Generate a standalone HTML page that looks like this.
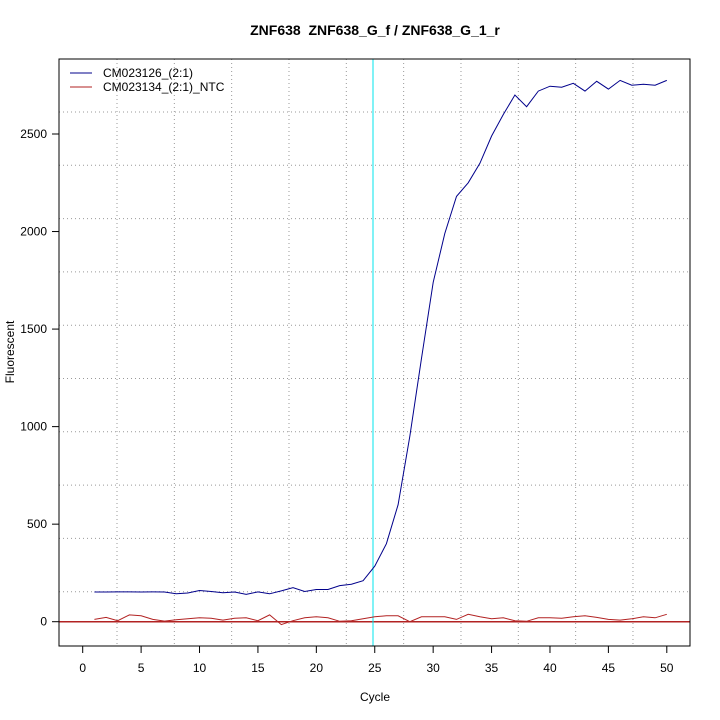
<!DOCTYPE html>
<html><head><meta charset="utf-8"><style>body{margin:0;background:#fff}svg{display:block}text{font-family:"Liberation Sans",sans-serif}</style></head>
<body>
<svg id="s" width="720" height="720" xmlns="http://www.w3.org/2000/svg">
<rect width="720" height="720" fill="#fff"/>
<g id="grid" stroke="#999" stroke-width="1" stroke-dasharray="1,3"></g>
<line x1="59" y1="621.7" x2="690" y2="621.7" stroke="#b22222" stroke-width="1.5"/>
<line x1="373" y1="59" x2="373" y2="646" stroke="#00e5ee" stroke-width="1"/>
<polyline id="red" fill="none" stroke="#b22222" stroke-width="1"/>
<polyline id="blue" fill="none" stroke="#00008b" stroke-width="1"/>
<rect x="59" y="59" width="631" height="587" fill="none" stroke="#000" stroke-width="1"/>
<g id="ax" stroke="#000"></g>
<g id="lbl" font-size="12" fill="#000"></g>
<text x="375" y="35" font-size="14" font-weight="bold" text-anchor="middle" xml:space="preserve" style="white-space:pre">ZNF638  ZNF638_G_f / ZNF638_G_1_r</text>
<text x="375" y="701" font-size="12" text-anchor="middle">Cycle</text>
<text x="14" y="352" font-size="12" text-anchor="middle" transform="rotate(-90 14 352)">Fluorescent</text>
<line x1="70" y1="73" x2="92" y2="73" stroke="#00008b"/>
<line x1="70" y1="87" x2="92" y2="87" stroke="#b22222"/>
<text x="103" y="77" font-size="12">CM023126_(2:1)</text>
<text x="103" y="91" font-size="12">CM023134_(2:1)_NTC</text>
</svg>
<script>
var NS="http://www.w3.org/2000/svg";
function el(p,t,a,txt){var e=document.createElementNS(NS,t);for(var k in a)e.setAttribute(k,a[k]);if(txt!=null)e.textContent=txt;p.appendChild(e);}
var X=function(c){return 82.7+c*11.682};var Y=function(v){return 621.7-v*0.19508};
var g=document.getElementById('grid');
for(var i=0;i<10;i++){var x=117+i*57.33;el(g,'line',{x1:x,y1:59,x2:x,y2:646});}
for(var i=0;i<10;i++){var y=112+i*53.3;el(g,'line',{x1:59,y1:y,x2:690,y2:y});}
var ax=document.getElementById('ax'),lb=document.getElementById('lbl');
for(var c=0;c<=50;c+=5){el(ax,'line',{x1:X(c),y1:646,x2:X(c),y2:653});el(lb,'text',{x:X(c),y:672,'text-anchor':'middle'},String(c));}
for(var v=0;v<=2500;v+=500){el(ax,'line',{x1:52,y1:Y(v),x2:59,y2:Y(v)});el(lb,'text',{x:47,y:Y(v)+4,'text-anchor':'end'},String(v));}
var b=[152,152,153,153,152,153,152,143,147,160,155,148,152,140,153,143,158,175,155,165,165,185,192,210,285,400,600,950,1350,1740,1990,2180,2250,2350,2490,2600,2700,2640,2720,2745,2740,2760,2720,2770,2730,2775,2750,2755,2750,2775];
var r=[12,22,5,35,30,12,3,10,15,20,18,8,18,20,5,35,-15,5,20,25,20,2,5,15,25,30,30,0,25,25,25,12,38,25,15,20,5,2,20,20,18,25,30,22,12,8,15,25,20,38];
function pts(a){return a.map(function(v,i){return X(i+1).toFixed(1)+','+Y(v).toFixed(1)}).join(' ');}
document.getElementById('blue').setAttribute('points',pts(b));
document.getElementById('red').setAttribute('points',pts(r));
</script>
</body></html>
